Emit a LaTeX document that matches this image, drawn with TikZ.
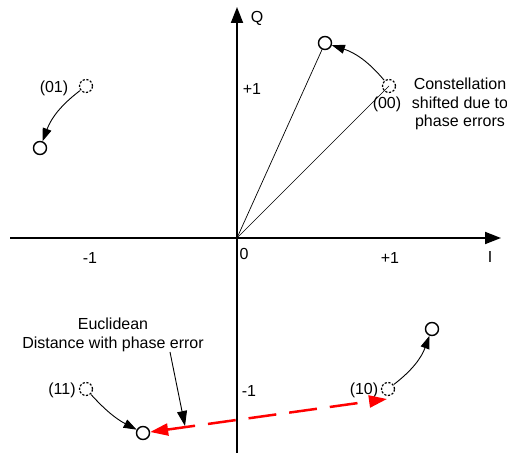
\documentclass[tikz,border=0pt]{standalone}
\usepackage{fontspec}
\setmainfont{Liberation Sans}
\usetikzlibrary{arrows.meta,calc}
\tikzset{
  txt/.style={inner sep=0pt, font=\fontsize{16}{18.5}\selectfont},
  solidpt/.style={circle, draw, line width=1.4pt, minimum size=13pt, inner sep=0pt, fill=white},
  dashpt/.style={circle, draw, line width=1.2pt, dash pattern=on 2.2pt off 1.6pt, minimum size=13pt, inner sep=0pt},
  axis/.style={line width=1.8pt, -{Triangle[length=16pt,width=12pt]}},
  radial/.style={line width=0.7pt},
  shiftarr/.style={line width=0.9pt, -{Triangle[length=13pt,width=9pt]}, shorten <=0.5pt},
  eucarr/.style={line width=0.9pt, -{Triangle[length=15pt,width=10pt]}},
  distarr/.style={draw=red, line width=2.5pt, dash pattern=on 28pt off 13pt, {Triangle[length=18pt,width=12pt]}-{Triangle[length=18pt,width=12pt]}}
}
\begin{document}
\begin{tikzpicture}[x=1pt,y=1pt]
\useasboundingbox (0,0) rectangle (507,453);
\coordinate (O) at (237,215);
\coordinate (xl) at (10,215);
\coordinate (xr) at (501,215);
\coordinate (yb) at (237,0);
\coordinate (yt) at (237,446);
\draw[axis] (xl) -- (xr);
\draw[axis] (yb) -- (yt);
\node[txt] (Q) at (257,435) {Q};
\node[txt] (I) at (490,196) {I};
\node[txt] (zero) at (244,199) {0};
\node[txt] (xp) at (390,195) {+1};
\node[txt] (xm) at (90,195) {-1};
\node[txt] (yp) at (252,364) {+1};
\node[txt] (ym) at (249,62) {-1};
% ideal points
\node[dashpt] (d00) at (389,367) {};
\node[dashpt] (d01) at (86,367) {};
\node[dashpt] (d11) at (86,64) {};
\node[dashpt] (d10) at (388,64) {};
% shifted points
\node[solidpt] (s00) at (325,410) {};
\node[solidpt] (s01) at (40,305) {};
\node[solidpt] (s11) at (143,20) {};
\node[solidpt] (s10) at (432,124) {};
% labels
\node[txt] (l00) at (387,349) {(00)};
\node[txt] (l01) at (54,365) {(01)};
\node[txt] (l11) at (62,63) {(11)};
\node[txt] (l10) at (364,63) {(10)};
\node[txt, align=center] (cons) at (460,349) {Constellation\\shifted due to\\phase errors};
\node[txt, align=center] (eu) at (113,118) {Euclidean\\Distance with phase error};
% radial lines
\draw[radial] (O) -- (s00);
\draw[radial] (O) -- (d00.center);
% shift arrows
\draw[shiftarr] (d00) to[bend right=16] (s00);
\draw[shiftarr] (d01) to[bend right=16] (s01);
\draw[shiftarr] (d11) to[bend right=10] (s11);
\draw[shiftarr] (d10) to[bend right=16] (s10);
% distance
\coordinate (e10) at (387,54);
\draw[distarr] (s11) -- (e10);
\coordinate (eustart) at (170,101);
\coordinate (eutip) at (185,27);
\draw[eucarr] (eustart) -- (eutip);
\end{tikzpicture}
\end{document}
